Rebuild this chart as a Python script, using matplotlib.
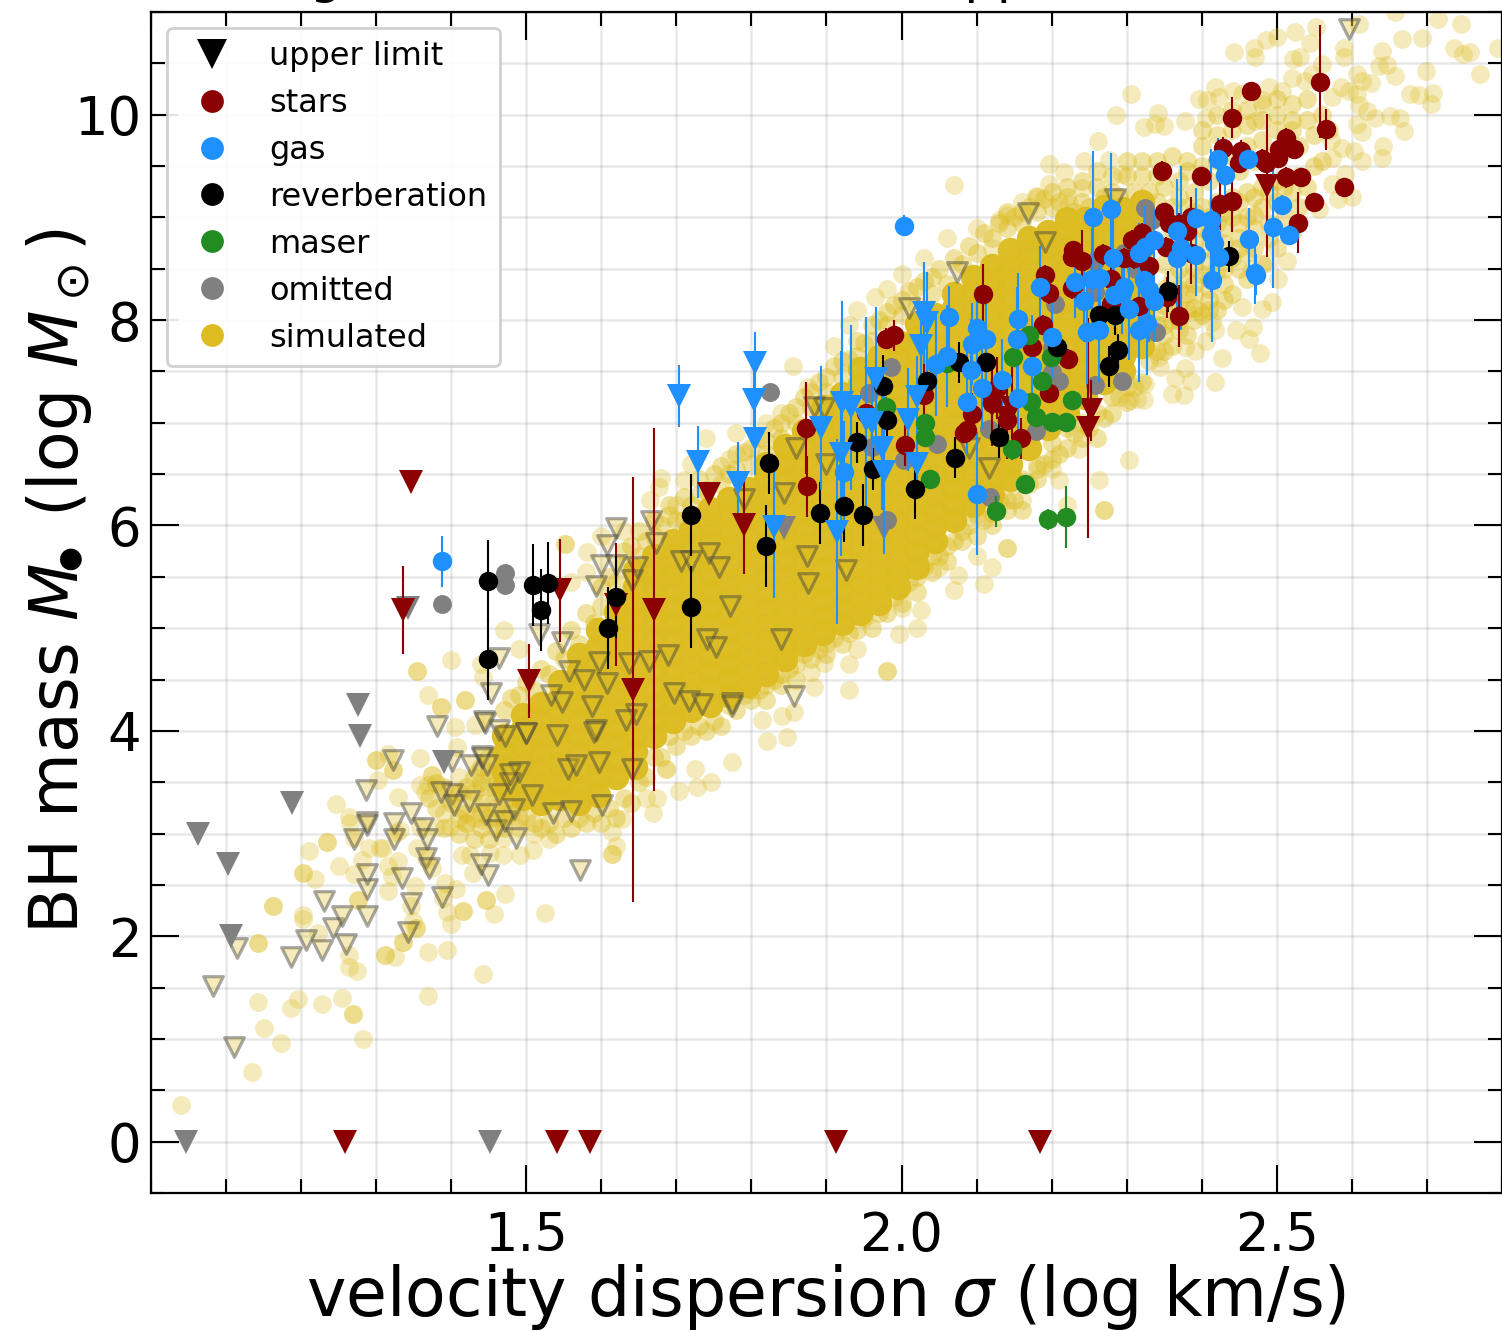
import matplotlib
matplotlib.use('Agg')
import matplotlib.pyplot as plt
import numpy as np
from matplotlib.lines import Line2D
from matplotlib.ticker import MultipleLocator

# measured galaxies: sigma, mass, error
stars_sigma = [2.557,2.565,2.465,2.44,2.428,2.452,2.449,2.48,2.485,2.501,2.512,2.523,2.503,2.512,2.532,2.589,2.549,2.528,
               2.347,2.399,2.424,2.44,2.35,2.356,2.37,2.385,2.38,2.307,2.32,2.352,2.228,2.227,2.24,2.268,2.296,2.31,2.33,2.385,
               2.227,2.279,2.354,2.37,2.191,2.196,2.316,2.279,2.188,2.174,2.222,2.196,2.108,1.99,1.979,1.873,1.874,2.03,2.005,
               1.953,2.094,2.083,2.087,2.127,2.12,2.14,2.159]
stars_mass = [10.32,9.86,10.23,9.97,9.68,9.65,9.53,9.57,9.53,9.58,9.77,9.67,9.67,9.39,9.39,9.3,9.15,8.95,
              9.45,9.4,9.13,9.16,9.05,8.95,8.94,9.0,8.87,8.78,8.85,8.71,8.68,8.61,8.58,8.64,8.6,8.6,8.53,8.65,
              8.31,8.4,8.22,8.04,8.44,8.26,8.14,8.16,7.95,7.74,7.62,7.29,8.25,7.85,7.82,6.95,6.38,7.27,6.78,
              7.1,7.09,6.9,6.93,7.34,7.19,7.03,6.85]
stars_err = [0.55,0.2,0.05,0.2,0.1,0.1,0.05,0.1,0.05,0.1,0.1,0.1,0.05,0.1,0.05,0.05,0.05,0.3,
             0.1,0.05,0.25,0.3,0.05,0.1,0.1,0.2,0.2,0.1,0.1,0.1,0.05,0.05,0.3,0.1,0.1,0.1,0.1,0.3,
             0.1,0.2,0.2,0.3,0.1,0.1,0.2,0.2,0.1,0.1,0.1,0.1,0.3,0.15,0.1,0.45,0.3,0.5,0.2,
             0.2,0.2,0.1,0.1,0.3,0.3,0.3,0.2]

gas_sigma = [2.003,1.388,2.063,1.923,2.046,2.06,2.087,2.093,2.094,2.1,2.112,2.107,2.1,2.134,2.155,2.154,2.174,2.155,2.184,2.2,
             2.255,2.279,2.231,2.254,2.265,2.282,2.243,2.294,2.283,2.303,2.323,2.336,2.33,2.247,2.263,2.316,2.327,2.296,
             2.316,2.325,2.336,2.367,2.372,2.367,2.392,2.392,2.412,2.412,2.416,2.423,2.413,2.421,2.431,2.461,2.463,2.471,
             2.472,2.495,2.507,2.516]
gas_mass = [8.92,5.65,8.03,6.52,7.57,7.65,7.2,7.51,7.77,7.92,7.82,7.34,6.31,7.42,8.01,7.82,7.55,7.24,8.32,7.84,
            9.0,9.08,8.37,8.4,8.41,8.6,8.19,8.26,8.24,8.11,8.39,8.19,8.29,7.88,7.9,7.9,7.97,8.32,
            8.65,8.71,8.78,8.87,8.7,8.6,8.99,8.63,8.97,8.84,8.75,8.61,8.39,9.57,9.41,9.57,8.79,8.46,
            8.44,8.91,9.12,8.83]
gas_err = [0.1,0.25,0.3,0.5,0.5,0.5,0.5,0.5,0.4,0.4,0.4,0.4,0.6,0.4,0.45,0.5,0.5,0.5,0.4,0.4,
           0.65,0.55,0.35,0.5,0.3,0.4,0.4,0.4,0.3,0.5,0.3,0.4,0.5,0.5,0.5,0.5,0.5,0.3,
           0.3,0.4,0.3,0.5,0.8,0.6,0.3,0.4,0.7,0.4,0.4,0.3,0.6,0.2,0.2,0.1,0.3,0.3,
           0.2,0.6,0.1,0.1]

reverb_sigma = [1.449,1.449,1.509,1.529,1.52,1.62,1.609,1.72,1.72,1.824,1.82,1.891,1.923,1.949,2.018,2.071,1.941,1.962,
                1.981,1.975,2.034,2.077,2.112,2.13,2.207,2.355,2.263,2.285,2.288,2.276,2.436]
reverb_mass = [5.46,4.70,5.42,5.44,5.18,5.30,5.0,6.1,5.21,6.61,5.8,6.12,6.19,6.1,6.36,6.66,6.81,6.55,
               7.03,7.36,7.41,7.59,7.59,6.86,7.74,8.28,8.05,8.05,7.71,7.55,8.62]
reverb_err = [0.4,0.4,0.4,0.4,0.4,0.4,0.4,0.4,0.4,0.3,0.4,0.3,0.35,0.3,0.3,0.2,0.2,0.2,
              0.2,0.3,0.2,0.2,0.2,0.2,0.1,0.2,0.2,0.2,0.15,0.2,0.15]

maser_sigma = [2.17,2.148,2.199,2.187,2.172,2.227,2.179,2.2,2.219,2.147,2.164,2.126,2.195,2.219,2.038,2.031,2.031,1.979,2.061]
maser_mass = [7.85,7.64,7.64,7.41,7.2,7.22,7.06,7.01,7.01,6.74,6.4,6.14,6.06,6.08,6.45,7.0,6.86,7.15,7.58]
maser_err = [0.05,0.05,0.05,0.05,0.05,0.05,0.05,0.05,0.05,0.1,0.05,0.15,0.1,0.3,0.05,0.05,0.05,0.1,0.05]

omitted_sigma = [1.388,1.471,1.471,1.825,1.986,1.957,1.961,2.003,2.047,2.117,2.118,1.981,2.179,2.2,2.21,2.204,2.258,2.296,
                 2.312,2.258,2.324,2.334,2.339,2.294,2.258,2.2]
omitted_mass = [5.24,5.54,5.42,7.3,7.54,7.29,6.76,6.64,6.79,6.94,6.28,6.05,6.92,7.49,7.41,8.16,8.58,8.65,
                8.5,8.27,9.09,8.97,7.88,7.41,7.37,7.73]

# upper limits
stars_lim_sigma = [1.258,1.541,1.585,1.913,2.184,1.347,1.336,1.504,1.545,1.62,1.67,1.642,1.744,1.79,2.248,2.252,2.487,2.12,2.14,2.147]
stars_lim_mass = [0,0,0,0,0,6.42,5.18,4.49,5.37,5.23,5.18,4.40,6.31,6.0,6.95,7.12,9.31,7.17,7.05,7.14]
stars_lim_err = [0,0,0,0,0,0,0.43,0.36,0.5,0.6,1.77,2.07,0,0.47,1.07,0.3,0.7,0.4,0.4,0.4]

gas_lim_sigma = [1.704,1.805,1.804,1.805,1.729,1.782,1.83,1.914,1.919,1.92,1.933,1.893,1.953,1.961,1.966,1.974,1.977,2.02,2.009,2.021,2.03,2.034,2.026]
gas_lim_mass = [7.26,7.58,7.22,6.84,6.62,6.41,5.99,5.94,6.7,7.19,7.15,6.95,7.03,7.0,7.43,6.75,6.52,7.25,7.03,6.6,8.07,7.97,7.75]
gas_lim_err = [0.3,0.3,0.3,0.35,0.35,0.4,0.7,0.9,1.0,1.0,0.8,0.6,1.0,0.5,0.7,0.6,0.8,0.4,0.5,0.3,0.5,0.5,0.4]

omitted_lim_sigma = [1.047,1.062,1.102,1.107,1.188,1.276,1.278,1.391,1.451,1.343,1.844,1.977]
omitted_lim_mass = [0,3.0,2.70,2.0,3.30,4.25,3.95,3.70,0,5.2,5.98,5.98]

sim_lim_sigma = [1.11,1.083,1.114,1.186,1.207,1.228,1.26,1.243,1.254,1.23,1.288,1.288,1.288,1.342,1.347,1.388,1.449,1.44,1.335,
                 1.367,1.37,1.324,1.324,1.347,1.362,1.368,1.288,1.288,1.271,1.286,1.323,1.46,1.472,1.486,1.401,1.386,1.404,
                 1.424,1.447,1.464,1.484,1.508,1.49,1.478,1.478,1.401,1.427,1.441,1.441,1.448,1.444,1.464,1.381,1.453,1.5,
                 1.62,1.666,1.607,1.673,1.6,1.62,1.641,1.648,1.593,1.706,1.744,1.72,1.517,1.547,1.597,1.557,1.577,1.608,
                 1.637,1.664,1.689,1.741,1.753,1.84,1.772,1.874,1.876,1.757,1.844,1.857,1.717,1.734,1.774,1.774,1.697,1.533,
                 1.547,1.588,1.646,1.633,1.593,1.59,1.541,1.499,1.471,1.445,1.464,1.555,1.566,1.597,1.641,1.601,1.56,1.535,
                 1.571,2.074,2.168,2.191,1.883,1.897,2.09,1.86,2.01,1.899,1.79,2.117,1.926,2.284,2.596]
sim_lim_mass = [0.92,1.52,1.89,1.80,1.96,1.87,1.92,2.08,2.2,2.34,2.2,2.46,2.61,2.04,2.32,2.38,2.6,2.7,2.57,
                2.76,2.66,2.95,3.1,3.2,3.05,2.95,3.11,3.08,2.95,3.42,3.72,3.03,3.12,2.96,3.39,3.4,3.28,
                3.32,3.19,3.39,3.24,3.38,3.6,3.49,3.58,3.71,3.67,3.76,3.74,3.67,4.1,4.01,4.05,4.37,3.98,
                5.98,6.04,5.81,5.83,5.62,5.62,5.47,5.6,5.41,5.65,5.73,5.65,4.94,4.87,4.67,4.58,4.5,4.47,
                4.66,4.68,4.74,4.89,4.82,4.89,5.22,5.7,5.44,5.6,6.32,4.34,4.29,4.26,4.27,4.24,4.37,4.35,
                4.28,4.24,4.16,4.11,4.01,3.99,3.96,3.98,3.95,4.08,4.71,3.63,3.67,3.7,3.63,3.28,3.22,3.2,
                2.65,8.47,9.04,8.76,7.15,7.14,6.75,6.75,8.12,6.6,6.26,6.56,5.57,9.18,10.83]

# simulated sample: scattered points, single overlaps
sim_sparse = [(1.04,.36),(1.134,.68),(1.173,.96),(1.15,1.11),(1.142,1.36),(1.282,1.0),(1.269,1.24),(1.269,1.24),(1.254,1.40),(1.228,1.34),
    (1.196,1.39),(1.187,1.30),(1.274,1.66),(1.264,1.70),(1.264,1.82),(1.162,2.29),(1.162,2.29),(1.143,1.93),(1.143,1.93),(1.202,2.17),(1.202,2.21),
    (1.223,2.03),(1.246,3.29),(1.235,2.92),(1.235,2.92),(1.21,2.83),(1.203,2.62),(1.203,2.62),(1.218,2.56),(1.25,2.68),(1.264,3.16),(1.265,3.1),
    (1.27,2.96),(1.281,2.74),(1.27,2.61),(1.3,3.72),(1.3,3.72),(1.322,3.62),(1.322,3.62),(1.316,3.77),(1.302,3.52),(1.329,3.36),(1.359,3.74),
    (1.354,4.58),(1.354,4.58),(1.369,4.35),(1.386,4.23),(1.386,4.23),(1.418,4.3),(1.418,4.3),(1.4,4.69),(1.442,4.52),(1.405,4.04),(1.432,4.06),
    (1.408,3.84),(1.358,3.47),(1.374,3.57),(1.374,3.57),(1.369,3.47),(1.38,3.49),(1.38,3.49),(1.365,3.40),(1.309,2.86),(1.29,2.86),(1.321,2.59),
    (1.316,2.44),(1.327,3.01),(1.276,2.35),(1.276,2.35),(1.325,1.80),(1.312,1.82),(1.312,1.82),(1.336,1.94),(1.336,1.94),(1.353,2.08),(1.353,2.08),
    (1.349,2.15),(1.347,2.29),(1.369,1.85),(1.394,1.87),(1.369,1.42),(1.442,1.63),(1.4,2.12),(1.416,2.25),(1.416,2.25),(1.394,2.24),(1.389,2.37),
    (1.457,2.22),(1.447,2.35),(1.447,2.35),(1.471,2.41),(1.406,2.46),(1.392,2.52),(1.525,2.23),(1.352,2.49),(1.316,2.68),(1.305,2.86),(1.329,2.73),
    (1.354,2.86),(1.367,2.76),(1.374,2.66),(1.429,2.62),(1.452,2.81),(1.414,2.79),(1.425,2.79),(1.469,2.79),(1.491,2.79),(1.509,2.84),(1.332,3.03),
    (1.358,3.06),(1.38,3.06),(1.398,3.06),(1.42,3.1),(1.443,3.13),(1.469,2.96),(1.39,3.2),(1.41,3.25),(1.43,3.3),(1.395,3.35),(1.415,3.4),(1.44,3.45),
    (1.455,3.3),(1.475,3.2),(1.46,3.55),(1.435,3.6),(1.41,3.55),(1.45,3.75),(1.47,3.7),(1.43,3.15),(1.46,3.05),(1.49,3.05),(1.51,3.0),(1.53,2.95),
    (1.552,5.82),(1.552,5.82),(1.581,5.74),(1.68,6.46),(1.677,6.37),(1.71,6.44),(1.70,6.2),(1.665,6.25),(1.821,3.9),(1.848,3.94),(1.774,3.7),(1.704,3.41),
    (1.727,3.45),(1.746,3.5),(1.725,3.63),(1.686,3.63),(1.686,3.63),(1.674,3.35),(1.66,3.35),(1.669,3.2),(1.628,3.14),(1.614,3.02),(1.614,2.8),
    (1.614,2.8),(1.62,2.88),(1.814,4.11),(1.841,4.14),(1.857,4.18),(1.884,4.43),(1.88,4.57),(1.897,4.66),(1.98,4.58),(1.98,4.58),(1.93,4.4),(1.93,4.65),
    (1.996,4.94),(2.026,5.18),(2.07,5.37),(2.11,5.43),(2.075,5.52),(2.14,5.78),(2.14,5.78),(2.27,6.15),(2.27,6.15),(2.263,6.44),(2.303,6.64),(2.323,7.22),(2.21,6.44),
    (2.236,6.74),(2.443,10.61),(2.471,10.56),(2.47,10.65),(2.485,10.73),(2.5,10.76),(2.524,10.81),(2.552,10.85),(2.544,10.7),(2.531,10.56),(2.522,10.54),
    (2.589,10.65),(2.589,10.56),(2.61,10.88),(2.658,11.0),(2.667,10.74),(2.694,10.75),(2.715,10.93),(2.746,10.88),(2.64,10.62),(2.647,10.48),(2.636,10.47),
    (2.658,10.38),(2.678,10.2),(2.69,10.19),(2.708,10.21),(2.706,10.1),(2.699,10.43),(2.736,10.65),(2.748,10.59),(2.758,10.61),(2.771,10.4),(2.795,10.65),
    (2.607,10.4),(2.614,10.33),(2.625,10.31),(2.596,10.23),(2.585,10.27),(2.574,10.17),(2.607,10.2),(2.609,10.09),(2.62,10.04),(2.631,9.97),(2.651,9.99),
    (2.664,9.97),(2.669,9.84),(2.614,9.83),(2.607,9.91),(2.642,9.7),(2.64,9.58),(2.614,9.55),(2.603,9.65),(2.587,9.68),(2.574,9.58),(2.591,9.42),(2.574,9.33),
    (2.6,9.2),(2.582,9.18),(2.556,9.08),(2.572,9.75),(2.538,10.33),(2.547,10.4),(2.56,10.49),(2.52,10.36),(2.507,10.23),(2.489,10.27),(2.48,10.14),(2.471,9.94),
    (2.454,10.2),(2.441,10.23),(2.418,10.27),(2.396,10.15),(2.407,10.14),(2.423,10.17),(2.405,9.97),(2.378,9.94),(2.338,9.91),(2.323,9.88),(2.35,9.89),
    (2.342,10.02),(2.306,10.2),(2.286,10.0),(2.262,9.74),(2.243,9.55),(2.197,9.52),(2.217,9.44),(2.197,9.33),(2.179,9.21),(2.16,9.15),(2.14,9.02),(2.13,8.97),
    (2.276,9.56),(2.294,9.42),(2.241,9.29),(2.223,9.13),(2.417,7.4),(2.376,7.27),(2.36,7.28),(2.386,7.41),(2.364,7.44),(2.378,7.53),(2.477,7.68),(2.427,7.63),
    (2.463,7.82),(2.446,7.9),(2.468,7.93),(2.418,7.9),(2.414,7.98),(2.494,8.18),(2.48,8.11),(2.454,8.13),(2.501,8.4),(2.514,8.58),(2.487,8.56),(2.467,8.5),
    (2.396,8.09),(2.378,7.74),(2.391,7.7),(2.405,7.8),(2.343,7.64),(2.325,7.38),(2.314,7.23),(2.305,7.22),(2.345,7.54),
    (1.875,7.35),(1.855,7.55),(1.93,7.95),(1.965,8.22),(2.0,8.45),(2.03,8.6),(2.07,9.32),(1.94,8.1),(1.84,7.1),(1.82,7.0),(1.78,6.9),(1.74,6.85),(1.72,6.6),
    (2.06,8.8),(2.1,8.9),(2.12,8.7),(1.98,8.3),(1.91,7.75),(1.77,6.65),(1.63,5.95),(1.6,5.9),(1.58,5.55),(1.56,5.45),(1.47,4.98),(1.49,4.8),(1.44,4.65),(2.22,6.2),
    (2.2,6.55),(2.18,6.6),(2.16,6.25),(2.12,5.6),(2.1,5.7),(2.05,5.6),(2.02,5.0),(2.0,5.2),(1.94,4.8),(1.9,4.85)]

# denser fringe around the main band
sim_mid = [(1.47,4.2),(1.49,4.35),(1.51,4.4),(1.53,4.55),(1.55,4.7),(1.57,4.85),(1.59,5.05),(1.6,5.4),(1.62,5.3),(1.64,5.8),(1.66,5.85),(1.68,6.0),(1.7,6.05),
    (1.72,6.2),(1.74,6.35),(1.76,6.4),(1.78,6.55),(1.8,6.6),(1.82,6.7),(1.84,6.85),(1.86,7.0),(1.88,7.15),(1.9,7.3),(1.92,7.45),(1.94,7.65),(1.96,7.8),(1.98,7.95),
    (2.0,8.05),(2.02,8.15),(2.04,8.25),(2.06,8.35),(2.08,8.55),(2.1,8.65),(2.12,8.8),(2.14,8.9),(2.16,8.95),(2.18,9.05),(2.2,9.1),(2.22,9.2),(2.24,9.15),(2.26,9.3),
    (2.28,9.25),(2.3,9.4),(2.32,9.4),(2.34,9.55),(2.36,9.6),(2.38,9.55),(2.4,9.7),(2.42,9.8),(2.44,9.85),(2.46,9.9),(2.48,9.95),(2.5,10.0),(2.52,10.1),(2.54,10.15),
    (1.44,3.2),(1.46,3.15),(1.47,3.3),(1.49,3.15),(1.51,3.1),(1.53,3.1),(1.55,3.15),(1.57,3.15),(1.59,3.2),(1.61,3.25),(1.63,3.35),(1.65,3.5),(1.67,3.75),(1.69,3.95),
    (1.71,4.0),(1.73,4.05),(1.75,4.1),(1.77,4.25),(1.79,4.35),(1.81,4.4),(1.83,4.5),(1.85,4.6),(1.87,4.75),(1.89,4.8),(1.91,4.9),(1.93,4.95),(1.95,5.1),(1.97,5.15),
    (1.99,5.3),(2.01,5.45),(2.03,5.6),(2.05,5.7),(2.07,5.85),(2.09,6.0),(2.11,6.05),(2.13,6.25),(2.15,6.25),(2.17,6.4),(2.19,6.6),(2.21,6.7),(2.23,6.9),(2.25,6.95),
    (2.27,7.05),(2.29,7.25),(2.31,7.35),(2.33,7.6),(2.35,7.7),(2.37,7.9),(2.39,8.0),(2.41,8.2),(2.43,8.35),(2.45,8.5),(2.47,8.7),(2.49,8.8),(2.51,9.0),(2.53,9.1),
    (2.35,9.3),(2.37,9.35),(2.39,9.25),(2.41,9.35),(2.43,9.4),(2.45,9.45),(2.47,9.55),(2.49,9.6),(2.51,9.65),(2.53,9.7),(2.55,9.8),(2.57,9.85),(2.55,9.5),(2.53,9.4),
    (2.36,9.1),(2.38,9.1),(2.4,9.1),(2.42,9.15),(2.44,9.2),(2.46,9.25),(2.48,9.3),(2.5,9.35),(2.52,9.25),(2.54,9.3),(2.56,9.55),(2.36,8.9),(2.38,8.85),(2.4,8.9),
    (2.42,8.95),(2.44,9.0),(2.46,9.0),(2.48,9.1),(2.5,9.15),(2.37,8.65),(2.39,8.65),(2.41,8.7),(2.43,8.75),(2.45,8.8),(2.47,8.9),(2.49,8.95),(2.36,8.4),(2.38,8.4),
    (2.4,8.45),(2.42,8.5),(2.44,8.6),(2.46,8.65),(2.35,8.15),(2.37,8.15),(2.39,8.25),(2.41,8.4),(2.43,8.5),(2.34,7.95),(2.36,8.0),(2.38,8.1),(2.35,7.85),(2.4,9.5),
    (2.44,9.6),(2.48,9.75),(2.52,9.85),(2.46,9.7),(2.42,9.55),(2.38,9.45),(2.5,9.85),(2.54,9.95),(2.56,10.0),(2.5,10.15),(2.46,10.05),(2.42,10.0),(2.44,10.05),(2.48,10.1),
    (2.52,9.95),(2.4,9.85),(2.34,9.4),(2.32,9.55),(2.3,9.55),(2.28,9.4),(2.26,9.45),(2.24,9.35),(2.22,9.3),(2.2,9.25),(2.18,9.2),(2.16,9.05),(2.14,9.05),
    (1.48,4.32),(1.5,4.48),(1.52,4.6),(1.54,4.78),(1.56,4.98),(1.58,5.15),(1.6,5.22),(1.61,5.5),(1.63,5.62),(1.65,5.7),(1.67,5.9),(1.69,6.1),(1.71,6.28),(1.73,6.45),
    (1.75,6.5),(1.77,6.5),(1.79,6.72),(1.81,6.85),(1.83,6.95),(1.85,7.1),(1.87,7.25),(1.89,7.4),(1.91,7.55),(1.93,7.62),(1.95,7.78),(1.97,8.0),(1.99,8.15),(2.01,8.28),
    (2.03,8.38),(2.05,8.5),(2.07,8.6),(2.09,8.72),(2.11,8.85),(2.13,8.95),(2.15,9.0),(2.17,9.1),(2.19,9.18),(2.21,9.15),(2.23,9.05),(2.25,9.1),(2.27,9.2),(2.29,9.2),
    (2.31,9.25),(2.33,9.25),(1.39,3.05),(1.41,3.0),(1.43,2.95),(1.45,2.95),(1.47,3.05),(1.4,3.3),(1.42,3.45),(1.44,3.65),(1.46,3.75),(1.45,3.45),(1.43,3.4),(1.41,3.15),
    (1.38,3.25),(1.37,3.35),(1.39,3.45),(1.44,3.05),(1.42,3.2),(1.46,3.4),(1.48,3.35),(1.5,3.15),(1.52,3.05),(1.54,3.0),(1.56,3.05),(1.58,3.1),(1.6,3.1),(1.62,3.15),
    (1.64,3.3),(1.66,3.55),(1.68,3.75),(1.7,3.85),(1.72,3.95),(1.74,4.0),(1.76,4.05),(1.78,4.2),(1.8,4.3),(1.82,4.3),(1.84,4.45),(1.86,4.5),(1.88,4.7),(1.9,4.75),
    (1.92,4.85),(1.94,4.98),(1.96,5.0),(1.98,5.15),(2.0,5.25),(2.02,5.35),(2.04,5.55),(2.06,5.65),(2.08,5.85),(2.1,5.9),(2.12,6.0),(2.14,6.15),(2.16,6.15),(2.18,6.45),
    (2.2,6.65),(2.22,6.75),(2.24,6.85),(2.26,6.85),(2.28,7.1),(2.3,7.2),(2.32,7.4),(2.34,7.7),(2.36,7.75),(2.38,7.85),(2.4,8.05),(2.42,8.1),(2.44,8.25),(2.46,8.4),
    (2.48,8.55),(2.5,8.7),(2.52,8.85),(2.34,9.15),(2.35,9.0),(2.37,9.2),(2.39,9.05),(2.41,9.0),(2.43,9.05),(2.45,9.15),(2.47,9.2),(2.49,9.25),(2.51,9.3),(2.35,8.75),
    (2.37,8.8),(2.39,8.78),(2.41,8.85),(2.43,8.9),(2.45,8.95),(2.47,9.02),(2.35,8.55),(2.37,8.5),(2.39,8.52),(2.41,8.58),(2.43,8.62),(2.45,8.7),(2.35,8.3),(2.37,8.3),
    (2.39,8.35),(2.41,8.3),(2.34,8.1),(2.36,8.2),(2.38,8.25),(2.35,7.95),(2.37,8.0),(2.39,8.12),(2.41,8.1),(2.43,8.2),
    (1.42,3.1),(1.44,3.3),(1.46,3.25),(1.45,3.6),(1.47,3.5),(1.43,3.55),(1.45,3.15),(1.47,3.15),(1.41,3.4),(1.44,3.5),(1.46,3.62),(1.48,3.2),
    (1.62,5.45),(1.63,5.75),(1.65,5.95),(1.67,6.05),(1.69,6.2),(1.71,6.05),(1.73,6.3),(1.76,6.58),(1.78,6.7),(1.8,6.75),(1.82,6.82),(1.84,7.0),(1.86,7.15),(1.88,7.3),
    (1.9,7.45),(1.92,7.6),(1.94,7.8),(1.96,7.95),(1.98,8.08),(2.0,8.2),(2.02,8.32),(2.04,8.42),(2.12,6.12),(2.14,6.25),(2.16,6.45),(2.18,6.55),(2.2,6.8),(2.22,6.95),
    (2.24,7.0),(2.26,7.1),(2.28,7.25),(2.3,7.35),(2.02,5.5),(2.04,5.7),(2.06,5.8),(2.08,5.95),(2.1,6.1),(1.88,4.85),(1.86,4.65),(1.84,4.55),(1.82,4.45),(1.8,4.4)]

# saturated core of the band, columns from low to high sigma
sim_core = [(1.47,3.45),(1.47,3.6),(1.47,3.78),(1.47,3.95),
    (1.495,3.35),(1.495,3.52),(1.495,3.68),(1.495,3.85),(1.495,4.02),(1.495,4.15),
    (1.52,3.3),(1.52,3.46),(1.52,3.62),(1.52,3.78),(1.52,3.94),(1.52,4.1),(1.52,4.26),
    (1.545,3.35),(1.545,3.5),(1.545,3.68),(1.545,3.85),(1.545,4.0),(1.545,4.16),(1.545,4.32),(1.545,4.48),
    (1.57,3.3),(1.57,3.46),(1.57,3.62),(1.57,3.78),(1.57,3.94),(1.57,4.1),(1.57,4.26),(1.57,4.42),(1.57,4.58),(1.57,4.74),
    (1.595,3.38),(1.595,3.55),(1.595,3.7),(1.595,3.86),(1.595,4.02),(1.595,4.18),(1.595,4.34),(1.595,4.5),(1.595,4.66),(1.595,4.82),(1.595,4.98),
    (1.62,3.55),(1.62,3.72),(1.62,3.88),(1.62,4.04),(1.62,4.2),(1.62,4.36),(1.62,4.52),(1.62,4.68),(1.62,4.84),(1.62,5.0),(1.62,5.16),
    (1.645,3.65),(1.645,3.8),(1.645,3.96),(1.645,4.12),(1.645,4.28),(1.645,4.44),(1.645,4.6),(1.645,4.76),(1.645,4.92),(1.645,5.08),(1.645,5.24),(1.645,5.4),(1.645,5.56),
    (1.67,3.95),(1.67,4.1),(1.67,4.26),(1.67,4.42),(1.67,4.58),(1.67,4.74),(1.67,4.9),(1.67,5.06),(1.67,5.22),(1.67,5.38),(1.67,5.54),(1.67,5.7),
    (1.695,4.1),(1.695,4.25),(1.695,4.41),(1.695,4.57),(1.695,4.73),(1.695,4.89),(1.695,5.05),(1.695,5.21),(1.695,5.37),(1.695,5.53),(1.695,5.69),(1.695,5.85),
    (1.72,4.2),(1.72,4.36),(1.72,4.52),(1.72,4.68),(1.72,4.84),(1.72,5.0),(1.72,5.16),(1.72,5.32),(1.72,5.48),(1.72,5.64),(1.72,5.8),(1.72,5.96),
    (1.745,4.25),(1.745,4.4),(1.745,4.56),(1.745,4.72),(1.745,4.88),(1.745,5.04),(1.745,5.2),(1.745,5.36),(1.745,5.52),(1.745,5.68),(1.745,5.84),(1.745,6.0),(1.745,6.16),
    (1.77,4.35),(1.77,4.5),(1.77,4.66),(1.77,4.82),(1.77,4.98),(1.77,5.14),(1.77,5.3),(1.77,5.46),(1.77,5.62),(1.77,5.78),(1.77,5.94),(1.77,6.1),(1.77,6.26),
    (1.795,4.45),(1.795,4.6),(1.795,4.76),(1.795,4.92),(1.795,5.08),(1.795,5.24),(1.795,5.4),(1.795,5.56),(1.795,5.72),(1.795,5.88),(1.795,6.04),(1.795,6.2),(1.795,6.36),
    (1.82,4.55),(1.82,4.7),(1.82,4.86),(1.82,5.02),(1.82,5.18),(1.82,5.34),(1.82,5.5),(1.82,5.66),(1.82,5.82),(1.82,5.98),(1.82,6.14),(1.82,6.3),(1.82,6.46),(1.82,6.6),
    (1.845,4.7),(1.845,4.85),(1.845,5.01),(1.845,5.17),(1.845,5.33),(1.845,5.49),(1.845,5.65),(1.845,5.81),(1.845,5.97),(1.845,6.13),(1.845,6.29),(1.845,6.45),(1.845,6.61),(1.845,6.77),
    (1.87,4.85),(1.87,5.0),(1.87,5.16),(1.87,5.32),(1.87,5.48),(1.87,5.64),(1.87,5.8),(1.87,5.96),(1.87,6.12),(1.87,6.28),(1.87,6.44),(1.87,6.6),(1.87,6.76),(1.87,6.92),
    (1.895,4.95),(1.895,5.1),(1.895,5.26),(1.895,5.42),(1.895,5.58),(1.895,5.74),(1.895,5.9),(1.895,6.06),(1.895,6.22),(1.895,6.38),(1.895,6.54),(1.895,6.7),(1.895,6.86),(1.895,7.02),(1.895,7.15),
    (1.92,5.05),(1.92,5.2),(1.92,5.36),(1.92,5.52),(1.92,5.68),(1.92,5.84),(1.92,6.0),(1.92,6.16),(1.92,6.32),(1.92,6.48),(1.92,6.64),(1.92,6.8),(1.92,6.96),(1.92,7.12),(1.92,7.28),
    (1.945,5.15),(1.945,5.3),(1.945,5.46),(1.945,5.62),(1.945,5.78),(1.945,5.94),(1.945,6.1),(1.945,6.26),(1.945,6.42),(1.945,6.58),(1.945,6.74),(1.945,6.9),(1.945,7.06),(1.945,7.22),(1.945,7.38),(1.945,7.52),
    (1.97,5.25),(1.97,5.4),(1.97,5.56),(1.97,5.72),(1.97,5.88),(1.97,6.04),(1.97,6.2),(1.97,6.36),(1.97,6.52),(1.97,6.68),(1.97,6.84),(1.97,7.0),(1.97,7.16),(1.97,7.32),(1.97,7.48),(1.97,7.64),
    (1.995,5.4),(1.995,5.55),(1.995,5.71),(1.995,5.87),(1.995,6.03),(1.995,6.19),(1.995,6.35),(1.995,6.51),(1.995,6.67),(1.995,6.83),(1.995,6.99),(1.995,7.15),(1.995,7.31),(1.995,7.47),(1.995,7.63),(1.995,7.79),
    (2.02,5.6),(2.02,5.75),(2.02,5.91),(2.02,6.07),(2.02,6.23),(2.02,6.39),(2.02,6.55),(2.02,6.71),(2.02,6.87),(2.02,7.03),(2.02,7.19),(2.02,7.35),(2.02,7.51),(2.02,7.67),(2.02,7.83),(2.02,7.96),
    (2.045,5.85),(2.045,6.0),(2.045,6.16),(2.045,6.32),(2.045,6.48),(2.045,6.64),(2.045,6.8),(2.045,6.96),(2.045,7.12),(2.045,7.28),(2.045,7.44),(2.045,7.6),(2.045,7.76),(2.045,7.92),(2.045,8.05),
    (2.07,6.05),(2.07,6.2),(2.07,6.36),(2.07,6.52),(2.07,6.68),(2.07,6.84),(2.07,7.0),(2.07,7.16),(2.07,7.32),(2.07,7.48),(2.07,7.64),(2.07,7.8),(2.07,7.96),(2.07,8.12),(2.07,8.25),
    (2.095,6.2),(2.095,6.35),(2.095,6.51),(2.095,6.67),(2.095,6.83),(2.095,6.99),(2.095,7.15),(2.095,7.31),(2.095,7.47),(2.095,7.63),(2.095,7.79),(2.095,7.95),(2.095,8.11),(2.095,8.27),(2.095,8.42),
    (2.12,6.3),(2.12,6.45),(2.12,6.61),(2.12,6.77),(2.12,6.93),(2.12,7.09),(2.12,7.25),(2.12,7.41),(2.12,7.57),(2.12,7.73),(2.12,7.89),(2.12,8.05),(2.12,8.21),(2.12,8.37),(2.12,8.53),
    (2.145,6.45),(2.145,6.6),(2.145,6.76),(2.145,6.92),(2.145,7.08),(2.145,7.24),(2.145,7.4),(2.145,7.56),(2.145,7.72),(2.145,7.88),(2.145,8.04),(2.145,8.2),(2.145,8.36),(2.145,8.52),(2.145,8.68),
    (2.17,6.75),(2.17,6.9),(2.17,7.06),(2.17,7.22),(2.17,7.38),(2.17,7.54),(2.17,7.7),(2.17,7.86),(2.17,8.02),(2.17,8.18),(2.17,8.34),(2.17,8.5),(2.17,8.66),(2.17,8.8),
    (2.195,6.95),(2.195,7.1),(2.195,7.26),(2.195,7.42),(2.195,7.58),(2.195,7.74),(2.195,7.9),(2.195,8.06),(2.195,8.22),(2.195,8.38),(2.195,8.54),(2.195,8.7),(2.195,8.86),
    (2.22,7.1),(2.22,7.25),(2.22,7.41),(2.22,7.57),(2.22,7.73),(2.22,7.89),(2.22,8.05),(2.22,8.21),(2.22,8.37),(2.22,8.53),(2.22,8.69),(2.22,8.85),(2.22,8.98),
    (2.245,7.25),(2.245,7.4),(2.245,7.56),(2.245,7.72),(2.245,7.88),(2.245,8.04),(2.245,8.2),(2.245,8.36),(2.245,8.52),(2.245,8.68),(2.245,8.84),(2.245,8.98),
    (2.27,7.4),(2.27,7.55),(2.27,7.71),(2.27,7.87),(2.27,8.03),(2.27,8.19),(2.27,8.35),(2.27,8.51),(2.27,8.67),(2.27,8.83),(2.27,8.98),(2.27,9.1),
    (2.295,7.5),(2.295,7.65),(2.295,7.81),(2.295,7.97),(2.295,8.13),(2.295,8.29),(2.295,8.45),(2.295,8.61),(2.295,8.77),(2.295,8.93),(2.295,9.08),
    (2.32,7.75),(2.32,7.9),(2.32,8.06),(2.32,8.22),(2.32,8.38),(2.32,8.54),(2.32,8.7),(2.32,8.86),(2.32,9.02),(2.32,9.15)]

tick_font = 19
label_font = 24
legend_font = 11.5
dpi = 200

def draw_points(ax, sigma, mass, err, color, size, marker='o'):
    ax.errorbar(sigma, mass, yerr=err, fmt=marker, color=color, ms=size, mew=0,
                elinewidth=0.75, capsize=0, zorder=5)

def main():
    plt.rcParams['font.family'] = 'DejaVu Sans'
    plt.rcParams['mathtext.fontset'] = 'dejavusans'
    fig = plt.figure(figsize=(1502 / dpi, 1331 / dpi), dpi=dpi)
    ax = fig.add_axes([151 / 1502, 1 - 1193 / 1331, 1351 / 1502, 1181 / 1331])

    gold = '#dcbc20'
    sp = np.array(sim_sparse)
    md = np.array(sim_mid)
    cr = np.array(sim_core)
    ax.scatter(sp[:, 0], sp[:, 1], s=46, color=gold, alpha=0.3, lw=0, zorder=2)
    ax.scatter(md[:, 0], md[:, 1], s=46, color=gold, alpha=0.42, lw=0, zorder=2)
    ax.scatter(cr[:, 0], cr[:, 1], s=84, color=gold, alpha=0.97, lw=0, zorder=2)

    ax.scatter(sim_lim_sigma, sim_lim_mass, s=50, marker='v', facecolor=matplotlib.colors.to_rgba(gold, 0.3),
               edgecolor=(0.25, 0.25, 0.25, 0.45), lw=1.15, zorder=3)

    ax.plot(omitted_sigma, omitted_mass, 'o', color='gray', ms=6.8, mew=0, zorder=4)
    ax.plot(omitted_lim_sigma, omitted_lim_mass, 'v', color='gray', ms=8.4, mew=0, zorder=4)

    draw_points(ax, stars_sigma, stars_mass, stars_err, 'darkred', 7)
    draw_points(ax, stars_lim_sigma, stars_lim_mass, stars_lim_err, 'darkred', 8.4, 'v')
    draw_points(ax, maser_sigma, maser_mass, maser_err, 'forestgreen', 7)
    draw_points(ax, reverb_sigma, reverb_mass, reverb_err, 'black', 7)
    draw_points(ax, gas_sigma, gas_mass, gas_err, 'dodgerblue', 7)
    draw_points(ax, gas_lim_sigma, gas_lim_mass, gas_lim_err, 'dodgerblue', 8.4, 'v')

    ax.set_xlim(1.0, 2.8)
    ax.set_ylim(-0.5, 11)
    ax.set_xticks([1.5, 2.0, 2.5])
    ax.xaxis.set_minor_locator(MultipleLocator(0.1))
    ax.yaxis.set_major_locator(MultipleLocator(2))
    ax.yaxis.set_minor_locator(MultipleLocator(0.5))
    ax.grid(True, which='both', color='black', alpha=0.09, lw=0.9, zorder=1)
    ax.set_axisbelow(True)
    ax.tick_params(which='major', direction='in', length=10, width=0.75, top=True, right=True, labelsize=tick_font)
    ax.tick_params(which='minor', direction='in', length=5, width=0.75, top=True, right=True)
    ax.tick_params(axis='x', which='major', pad=6)
    ax.tick_params(axis='y', which='major', pad=3.5)
    for s in ax.spines.values():
        s.set_linewidth(0.8)
    ax.set_xlabel(r'velocity dispersion $\sigma$ (log km/s)', fontsize=label_font, labelpad=0)
    ax.set_ylabel('BH mass $M_{\\!\\!\u26ab}$ (log $M_\\odot$)', fontsize=label_font, labelpad=-7, y=0.518)

    # title is cut off by the top edge of the saved picture
    fig.text(199 / 1502, 1.006, 'Using all the detections and upper limits', fontsize=18.4, ha='left', va='baseline')

    handles = [Line2D([], [], ls='', marker='v', color='black', ms=10.8, mew=0, label='upper limit'),
               Line2D([], [], ls='', marker='o', color='darkred', ms=8.2, mew=0, label='stars'),
               Line2D([], [], ls='', marker='o', color='dodgerblue', ms=8.2, mew=0, label='gas'),
               Line2D([], [], ls='', marker='o', color='black', ms=8.2, mew=0, label='reverberation'),
               Line2D([], [], ls='', marker='o', color='forestgreen', ms=8.2, mew=0, label='maser'),
               Line2D([], [], ls='', marker='o', color='gray', ms=8.2, mew=0, label='omitted'),
               Line2D([], [], ls='', marker='o', color=gold, ms=8.2, mew=0, label='simulated')]
    leg = ax.legend(handles=handles, loc='upper left', fontsize=legend_font, framealpha=0.9,
                    labelspacing=0.5, handletextpad=0.8, borderpad=0.4, borderaxespad=0.5)
    leg.set_zorder(10)

    fig.savefig('out.png', dpi=dpi)

if __name__ == '__main__':
    main()
